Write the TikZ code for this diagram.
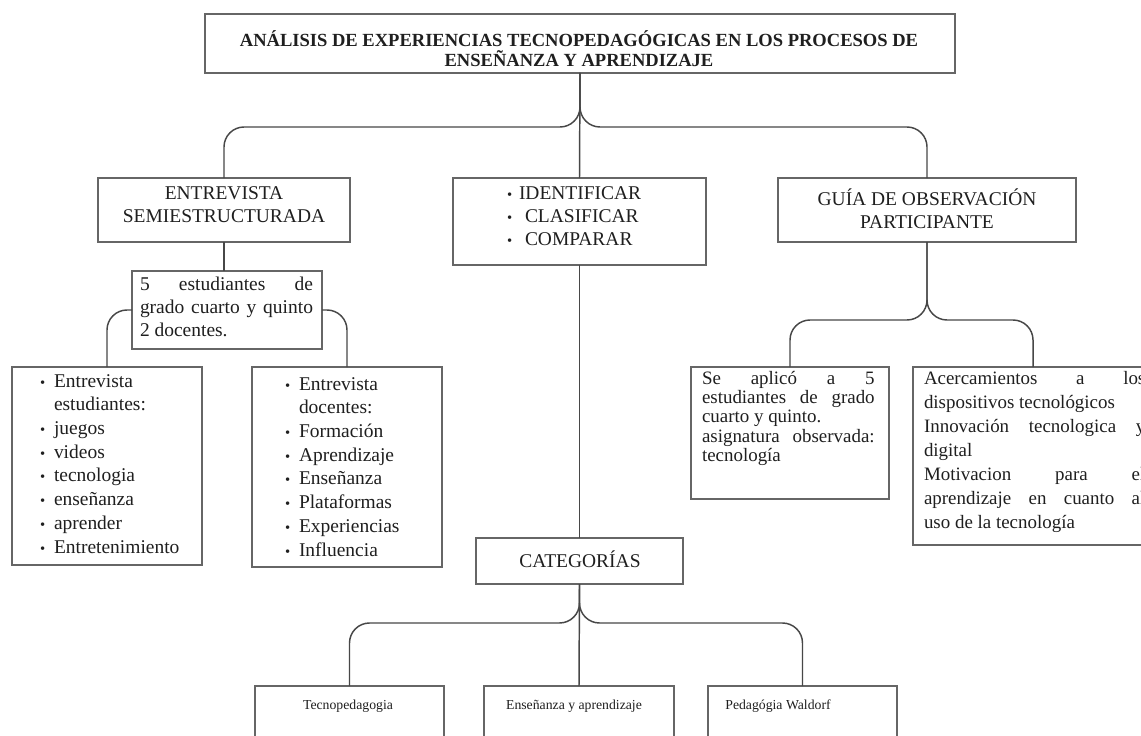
\documentclass[tikz,border=0pt]{standalone}
\usepackage{fontspec}
\setmainfont{Liberation Serif}
\newcommand{\fl}{\rule{0pt}{14pt}}
\newcommand{\ttlf}{\bfseries\fontsize{13.9pt}{15pt}\selectfont}
\newcommand{\bigf}{\fontsize{14.6pt}{17.25pt}\selectfont}
\newcommand{\lstf}{\fontsize{14.6pt}{17.8pt}\selectfont}
\newcommand{\medf}{\fontsize{14.2pt}{14.5pt}\selectfont}
\newcommand{\medwf}{\fontsize{14.2pt}{18pt}\selectfont}
\newcommand{\smf}{\fontsize{10.3pt}{12pt}\selectfont}
\newcommand{\bul}[1]{\makebox[#1][l]{\fontsize{11pt}{11pt}\selectfont\textbullet}}
\newcommand{\jl}[2]{\makebox[#1][s]{#2}}
\newcommand{\mkbox}[5]{\node[box, minimum width={(#4-#2)*0.75pt}, minimum height={(#5-#3)*0.75pt}] (#1) at ({(#2+#4)/2},{(#3+#5)/2}) {};}
\begin{document}
\begin{tikzpicture}[x=0.75pt,y=-0.75pt,
  box/.style={draw=black!60, line width=1pt, inner sep=0pt, outer sep=0pt},
  ln/.style={draw=black!72, line width=1.1pt},
  br/.style={ln, rounded corners=15pt},
  tx/.style={anchor=north, inner sep=0pt, outer sep=0pt, yshift=14pt, text=black!88},
]
\fill[white] (0,0) rectangle (1141,735);
\useasboundingbox (0,0) rectangle (1141,735);
\clip (0,0) rectangle (1141,735);

% boxes
\mkbox{title}{205}{14}{955}{73}
\mkbox{ent}{98}{178}{350}{242}
\mkbox{mid}{453}{178}{706}{265}
\mkbox{guia}{778}{178}{1076}{242}
\mkbox{sub}{132}{271}{322}{349}
\mkbox{l1}{12}{367}{202}{565}
\mkbox{l2}{252}{367}{442}{567}
\mkbox{sa}{691}{367}{889}{499}
\mkbox{ac}{913}{367}{1153}{545}
\mkbox{cat}{476}{538}{683}{584}
\mkbox{b1}{255}{686}{444}{770}
\mkbox{b2}{484}{686}{674}{770}
\mkbox{b3}{708}{686}{897}{770}

% connectors
\draw[br] (title.south) -- ++(0,54) -| (ent.north);
\draw[br] (title.south) -- ++(0,54) -| (guia.north);
\draw[ln] (title.south) -- (mid.north);
\draw[ln] (ent.south) -- (ent.south |- sub.north);
\draw[br] (sub.west) -| (l1.north);
\draw[br] (sub.east) -| (l2.north);
\draw[ln] (mid.south) -- (cat.north);
\draw[br] (guia.south) -- ++(0,78) -| (sa.north);
\draw[br] (guia.south) -- ++(0,78) -| (ac.north);
\draw[br] (cat.south) -- ++(0,39) -| (b1.north);
\draw[br] (cat.south) -- ++(0,39) -| (b3.north);
\draw[ln] (cat.south) -- (b2.north);

% texts
\node[tx, font=\ttlf, align=center] (ttl-t) at (579,46) {\fl ANÁLISIS DE EXPERIENCIAS TECNOPEDAGÓGICAS EN LOS PROCESOS DE\\ENSEÑANZA Y APRENDIZAJE};
\node[tx, font=\bigf, align=center] (ent-t) at (224,199) {\fl ENTREVISTA\\SEMIESTRUCTURADA};
\node[tx, font=\bigf, align=left, anchor=north west] (mid-t) at (507,199) {\fl\bul{9pt}IDENTIFICAR\\\bul{13.5pt}CLASIFICAR\\\bul{13.5pt}COMPARAR};
\node[tx, font=\bigf, align=center] (guia-t) at (927,205) {\fl GUÍA DE OBSERVACIÓN\\PARTICIPANTE};
\node[tx, font=\bigf, align=left, anchor=north west] (sub-t) at (140,290) {\fl\jl{129.75pt}{5 estudiantes de}\\\jl{129.75pt}{grado cuarto y quinto}\\2 docentes.};
\node[tx, font=\lstf, align=left, anchor=north west] (l1-t) at (40,387) {\fl\bul{10.5pt}Entrevista\\\hspace*{10.5pt}estudiantes:\\\bul{10.5pt}juegos\\\bul{10.5pt}videos\\\bul{10.5pt}tecnologia\\\bul{10.5pt}enseñanza\\\bul{10.5pt}aprender\\\bul{10.5pt}Entretenimiento};
\node[tx, font=\lstf, align=left, anchor=north west] (l2-t) at (285,390) {\fl\bul{10.5pt}Entrevista\\\hspace*{10.5pt}docentes:\\\bul{10.5pt}Formación\\\bul{10.5pt}Aprendizaje\\\bul{10.5pt}Enseñanza\\\bul{10.5pt}Plataformas\\\bul{10.5pt}Experiencias\\\bul{10.5pt}Influencia};
\node[tx, font=\medf, align=left, anchor=north west] (sa-t) at (702,384) {\fl\jl{129.5pt}{Se aplicó a 5}\\\jl{129.5pt}{estudiantes de grado}\\cuarto y quinto.\\\jl{129.5pt}{asignatura observada:}\\tecnología};
\node[tx, font=\medwf, align=left, anchor=north west] (ac-t) at (924,384) {\fl\jl{166pt}{Acercamientos a los}\\dispositivos tecnológicos\\\jl{166pt}{Innovación tecnologica y}\\digital\\\jl{166pt}{Motivacion para el}\\\jl{166pt}{aprendizaje en cuanto al}\\uso de la tecnología};
\node[tx, font=\bigf] (cat-t) at (580,567) {\fl CATEGORÍAS};
\node[tx, font=\smf] (b1-t) at (348,709) {\fl Tecnopedagogia};
\node[tx, font=\smf] (b2-t) at (574,709) {\fl Enseñanza y aprendizaje};
\node[tx, font=\smf] (b3-t) at (778,709) {\fl Pedagógia Waldorf};
\end{tikzpicture}
\end{document}
